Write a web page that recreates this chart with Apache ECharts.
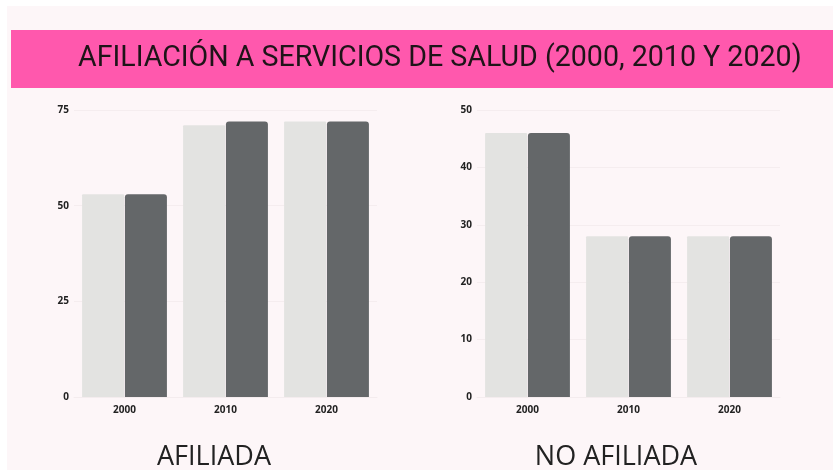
<!DOCTYPE html>
<html>
<head>
<meta charset="utf-8">
<script src="https://cdn.jsdelivr.net/npm/echarts@6/dist/echarts.min.js"></script>
<style>
  html, body { margin: 0; padding: 0; background: #fff; }
  #chart { width: 833px; height: 470px; }
</style>
</head>
<body>
<div id="chart"></div>
<script>
// datos
const years = ['2000', '2010', '2020']
const afiliadaA = [53, 71, 72]
const afiliadaB = [53, 72, 72]
const noAfiliadaA = [46, 28, 28]
const noAfiliadaB = [46, 28, 28]

const lightColor = '#e3e3e1'
const darkColor = '#646769'

const myChart = echarts.init(document.getElementById('chart'))

function axisX(gridIndex) {
  return {
    type: 'category',
    gridIndex: gridIndex,
    data: years,
    axisTick: { show: false },
    axisLine: { show: true, lineStyle: { color: '#f4ecee' } },
    axisLabel: { color: '#222', fontSize: 10, fontWeight: 'bold', margin: 8, fontFamily: 'Open Sans' }
  }
}

function axisY(gridIndex, max, interval) {
  return {
    type: 'value',
    gridIndex: gridIndex,
    min: 0,
    max: max,
    interval: interval,
    axisLine: { show: false },
    axisTick: { show: false },
    splitLine: { lineStyle: { color: '#f5edef' } },
    axisLabel: { color: '#222', fontSize: 10, fontWeight: 'bold', margin: 5, fontFamily: 'Open Sans' }
  }
}

function barSerie(idx, data, color, radius) {
  return {
    type: 'bar',
    xAxisIndex: idx,
    yAxisIndex: idx,
    data: data,
    barWidth: 42,
    barGap: '2%',
    itemStyle: { color: color, borderRadius: [radius, radius, 0, 0] }
  }
}

const option = {
  backgroundColor: '#ffffff',
  animation: false,
  graphic: [
    { type: 'rect', z: -10, shape: { x: 7, y: 6, width: 826, height: 464 }, style: { fill: '#fdf6f8' } },
    { type: 'rect', z: -5, shape: { x: 11, y: 30, width: 822, height: 58 }, style: { fill: '#ff58ad' } },
    {
      type: 'text', x: 78, y: 59,
      style: {
        text: 'AFILIACIÓN A SERVICIOS DE SALUD (2000, 2010 Y 2020)',
        fill: '#1e1418', fontSize: 28.6, fontFamily: 'Roboto', textVerticalAlign: 'middle'
      }
    },
    {
      type: 'text', x: 214, y: 457,
      style: { text: 'AFILIADA', fill: '#222', fontSize: 27, fontFamily: 'Open Sans', textAlign: 'center', textVerticalAlign: 'middle' }
    },
    {
      type: 'text', x: 616, y: 457,
      style: { text: 'NO AFILIADA', fill: '#222', fontSize: 27, fontFamily: 'Open Sans', textAlign: 'center', textVerticalAlign: 'middle' }
    }
  ],
  grid: [
    { left: 74, top: 110, width: 303, height: 287 },
    { left: 477, top: 110, width: 303, height: 287 }
  ],
  xAxis: [axisX(0), axisX(1)],
  yAxis: [axisY(0, 75, 25), axisY(1, 50, 10)],
  series: [
    barSerie(0, afiliadaA, lightColor, 1),
    barSerie(0, afiliadaB, darkColor, 3),
    barSerie(1, noAfiliadaA, lightColor, 1),
    barSerie(1, noAfiliadaB, darkColor, 3)
  ]
}

myChart.setOption(option)
window.addEventListener('resize', () => {
  myChart.resize()
})
</script>
</body>
</html>
